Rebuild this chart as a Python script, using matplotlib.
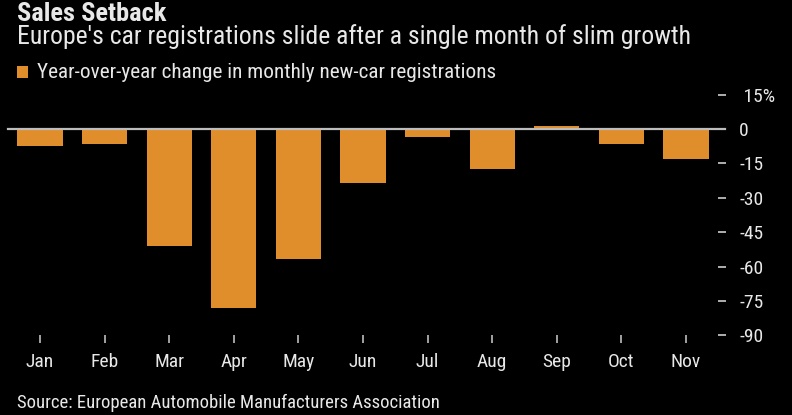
import matplotlib.pyplot as plt
from matplotlib.patches import Rectangle

# data
months = ['Jan', 'Feb', 'Mar', 'Apr', 'May', 'Jun', 'Jul', 'Aug', 'Sep', 'Oct', 'Nov']
yoy_change = [-7.2, -6.6, -51.2, -78.2, -56.7, -23.6, -3.5, -17.4, 1.5, -6.6, -13.1]
y_ticks = [15, 0, -15, -30, -45, -60, -75, -90]
y_tick_labels = [' 15%', '0', '-15', '-30', '-45', '-60', '-75', '-90']

BG = '#000000'
ORANGE = '#E08E2B'
TEXT = '#E8E8E8'
GRID = '#BDBDBD'
FONT = ['Liberation Sans Narrow', 'Roboto Condensed', 'DejaVu Sans']

plt.rcParams['font.family'] = FONT

fig = plt.figure(figsize=(7.92, 4.15), dpi=100, facecolor=BG)
ax = fig.add_axes([0.0097, 0.1918, 0.8972, 0.5858], facecolor=BG)

x = range(len(months))
ax.bar(x, yoy_change, width=0.70, color=ORANGE, zorder=2)
ax.axhline(0, color=GRID, lw=1.6, xmax=1.009, clip_on=False, zorder=3)

ax.set_xlim(-0.5, len(months) - 0.5)
ax.set_ylim(-90, 16)

ax.set_xticks(list(x))
ax.set_xticklabels(months, fontsize=14, color=TEXT)
ax.tick_params(axis='x', length=6, width=1.2, color=GRID, pad=7, direction='out')

ax.yaxis.tick_right()
ax.set_yticks(y_ticks)
ax.set_yticklabels(y_tick_labels, fontsize=14, color=TEXT)
ax.tick_params(axis='y', length=6, width=1.3, color=GRID, pad=9, direction='out')
for t in ax.yaxis.get_major_ticks():
    if t.get_loc() == 0:
        t.tick2line.set_visible(False)

for s in ax.spines.values():
    s.set_visible(False)

# headings
fig.text(17 / 792, 1 - 2 / 415, 'Sales Setback', fontsize=19, fontweight='bold',
         color=TEXT, va='top', ha='left')
fig.text(17 / 792, 1 - 37 / 415,
         "Europe's car registrations slide after a single month of slim growth",
         fontsize=18.5, color=TEXT, va='center', ha='left')

# legend
fig.patches.append(Rectangle((17 / 792, 1 - 78 / 415), 11 / 792, 12 / 415,
                             transform=fig.transFigure, facecolor=ORANGE,
                             edgecolor='none'))
fig.text(37 / 792, 1 - 72 / 415, 'Year-over-year change in monthly new-car registrations',
         fontsize=15.3, color=TEXT, va='center', ha='left')

fig.text(17 / 792, 1 - 403 / 415, 'Source: European Automobile Manufacturers Association',
         fontsize=13.5, color=TEXT, va='center', ha='left')

fig.savefig('out.png', dpi=100, facecolor=BG)
